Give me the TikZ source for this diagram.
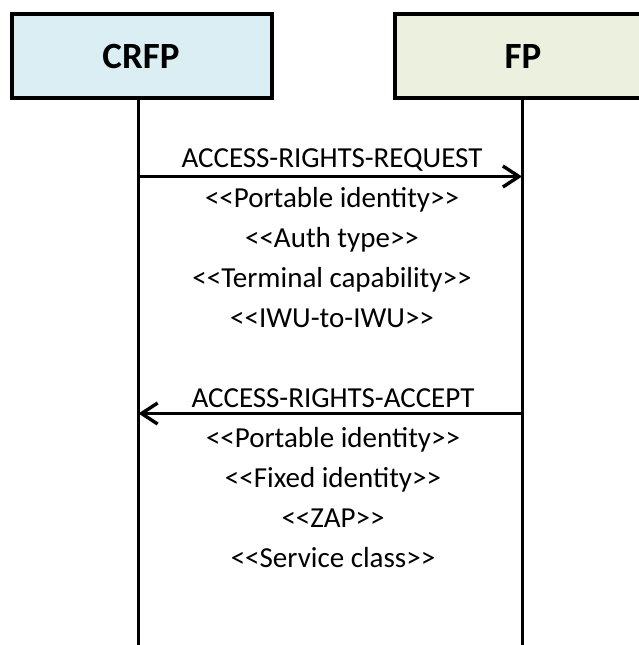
\documentclass[tikz,border=0pt]{standalone}
\usepackage{fontspec}
\setmainfont{Carlito}
\usetikzlibrary{arrows.meta}
\definecolor{crfpfill}{HTML}{DBEEF4}
\definecolor{fpfill}{HTML}{EBF1DE}
\begin{document}
\begin{tikzpicture}[x=1pt,y=-1pt,
  entity/.style={draw=black,line width=4pt,anchor=north west,inner sep=0pt,minimum height=84pt},
  title/.style={anchor=base,inner sep=0pt,font=\fontsize{37}{44}\selectfont\bfseries},
  life/.style={line width=3pt},
  msg/.style={line width=3pt,-{Straight Barb[length=16pt,width=21pt,line width=3.4pt]}},
  lbl/.style={anchor=base,inner sep=0pt,font=\fontsize{29}{34}\selectfont}]
\useasboundingbox (0,0) rectangle (639,645);
\node[entity,fill=crfpfill,minimum width=260pt] (crfp) at (10,12) {};
\node[entity,fill=fpfill,minimum width=270pt] (fp) at (393,12) {};
\node[title] (crfpt) at (141,68) {CRFP};
\node[title] (fpt) at (523,68) {FP};
\coordinate (crfpend) at (138.5,645);
\coordinate (fpend) at (522,645);
\draw[life] (crfp.south -| crfpend) -- (crfpend);
\draw[life] (fp.south -| fpend) -- (fpend);
\coordinate (r1) at (138.5,176.5);
\coordinate (r2) at (522,176.5);
\coordinate (a1) at (522,413.5);
\coordinate (a2) at (138.5,413.5);
\draw[msg] (r1) -- (r2);
\draw[msg] (a1) -- (a2);
\node[lbl] (rq) at (332,167) {ACCESS-RIGHTS-REQUEST};
\node[lbl] (rq1) at (332,207) {<{}<Portable identity>{}>};
\node[lbl] (rq2) at (332,247) {<{}<Auth type>{}>};
\node[lbl] (rq3) at (332,287) {<{}<Terminal capability>{}>};
\node[lbl] (rq4) at (332,327) {<{}<IWU-to-IWU>{}>};
\node[lbl] (ac) at (333,407) {ACCESS-RIGHTS-ACCEPT};
\node[lbl] (ac1) at (333,447) {<{}<Portable identity>{}>};
\node[lbl] (ac2) at (333,487) {<{}<Fixed identity>{}>};
\node[lbl] (ac3) at (333,527) {<{}<ZAP>{}>};
\node[lbl] (ac4) at (333,567) {<{}<Service class>{}>};
\end{tikzpicture}
\end{document}
